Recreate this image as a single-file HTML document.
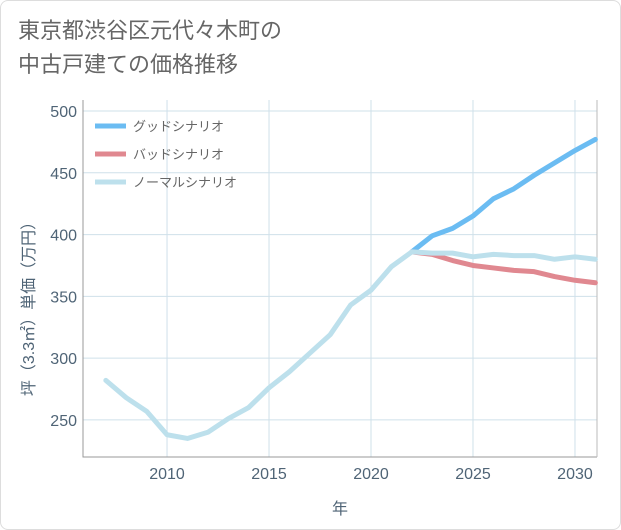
<!DOCTYPE html>
<html><head><meta charset="utf-8"><style>
body{margin:0;background:#fff;}
.wrap{position:relative;width:621px;height:530px;font-family:"Liberation Sans","Noto Sans CJK JP",sans-serif;}
.card{position:absolute;left:0;top:0;width:619px;height:528px;border:1px solid #ddd;border-radius:8px;background:#fff;}
.title{position:absolute;left:18px;top:14px;font-size:22px;line-height:34px;color:#666;}
</style></head><body>
<div class="wrap">
<div class="card"></div>
<div class="title">東京都渋谷区元代々木町の<br>中古戸建ての価格推移</div>
<svg id="chart" width="621" height="530" style="position:absolute;left:0;top:0"></svg>
</div>
<script>
const years=[2007,2008,2009,2010,2011,2012,2013,2014,2015,2016,2017,2018,2019,2020,2021,2022,2023,2024,2025,2026,2027,2028,2029,2030,2031];
const normalValues=[282,268,257,238,235,240,251,260,276,289,304,319,343,355,374,386,385,385,382,384,383,383,380,382,380];
const goodYears=[2022,2023,2024,2025,2026,2027,2028,2029,2030,2031];
const goodValues=[386,399,405,415,429,437,448,458,468,477];
const badValues=[386,384,379,375,373,371,370,366,363,361];
const xTicks=[2010,2015,2020,2025,2030];
const yTicks=[250,300,350,400,450,500];
const L=83,R=597,T=100,B=457;
const x=v=>L+(v-2005.88)/(2031.08-2005.88)*(R-L);
const y=v=>B-(v-220)/(508.9-220)*(B-T);
const svg=document.getElementById('chart');
const NS='http://www.w3.org/2000/svg';
const TC='#4f6476';
function mk(t,a){const e=document.createElementNS(NS,t);for(const k in a)e.setAttribute(k,a[k]);svg.appendChild(e);return e;}
let e=mk('rect',{x:L,y:T,width:R-L,height:B-T,fill:'#fff',stroke:'none'});


xTicks.forEach(t=>{
 let g=mk('line',{x1:x(t),x2:x(t),y1:T,y2:B,stroke:'#cfe0ea','stroke-width':1});
 
 
 let l=mk('text',{x:x(t),y:B+22,'text-anchor':'middle','font-size':16,fill:TC});l.textContent=t;
 
 
});
yTicks.forEach(t=>{
 let g=mk('line',{x1:L,x2:R,y1:y(t),y2:y(t),stroke:'#cfe0ea','stroke-width':1});
 
 
 let l=mk('text',{x:L-6,y:y(t)+6,'text-anchor':'end','font-size':16,fill:TC});l.textContent=t;
 
 
});
e=mk('path',{d:`M${L},${T}V${B}H${R}`,fill:'none',stroke:'#999','stroke-width':1});


e=mk('line',{x1:R,x2:R,y1:T,y2:B,stroke:'#bbb'});


function line(xs,vs,c,n){const p=mk('polyline',{points:xs.map((v,i)=>x(v)+','+y(vs[i])).join(' '),fill:'none',stroke:c,'stroke-width':5,'stroke-linejoin':'round','stroke-linecap':'round'});
 
 }
line(goodYears,goodValues,'#6bbcf2','good-scenario-line');
line(goodYears,badValues,'#e08890','bad-scenario-line');
line(years,normalValues,'#bde0ec','normal-scenario-line');
[['グッドシナリオ','#6bbcf2',126],['バッドシナリオ','#e08890',154],['ノーマルシナリオ','#bde0ec',182]].forEach(([t,c,yy])=>{
 let l=mk('line',{x1:95,x2:126,y1:yy,y2:yy,stroke:c,'stroke-width':5});
 
 
 let s=mk('text',{x:133,y:yy+5,'font-size':13,fill:'#666'});s.textContent=t;
 
 
});
e=mk('text',{x:340,y:514,'text-anchor':'middle','font-size':16,fill:TC});e.textContent='年';


e=mk('text',{x:0,y:0,'text-anchor':'middle','font-size':16,fill:TC,transform:'translate(34,305) rotate(-90)'});e.textContent='坪（3.3㎡）単価（万円）';


</script>
</body></html>
